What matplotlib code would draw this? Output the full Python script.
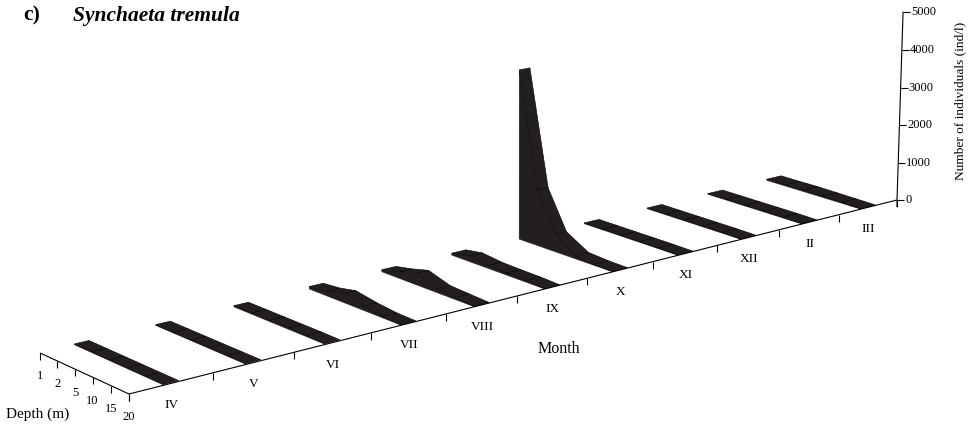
import numpy as np
import matplotlib
matplotlib.use('Agg')
import matplotlib.pyplot as plt

plt.rcParams['font.family'] = ['Liberation Serif', 'DejaVu Serif']

months = ['IV', 'V', 'VI', 'VII', 'VIII', 'IX', 'X', 'XI', 'XII', 'II', 'III']
depths = ['1', '2', '5', '10', '15', '20']
z_ticks = [0, 1000, 2000, 3000, 4000, 5000]

# individuals per litre, one list per month, depths 1 to 20 m
apr = [20, 20, 20, 20, 20, 20]
may = [20, 20, 20, 20, 20, 20]
jun = [30, 30, 30, 30, 30, 20]
jul = [60, 120, 240, 110, 30, 10]
aug = [50, 170, 310, 90, 50, 10]
sep = [50, 150, 70, 50, 40, 10]
oct_ = [4290, 1410, 450, 70, 20, 10]
nov = [20, 20, 20, 20, 20, 10]
dec = [20, 20, 20, 20, 20, 10]
feb = [20, 20, 20, 20, 20, 10]
mar = [30, 30, 40, 30, 20, 10]
values = [apr, may, jun, jul, aug, sep, oct_, nov, dec, feb, mar]

# perspective used by the original 3d plot, fitted to the axis ticks
origin = np.array([129.0, 394.0])
dir_m = np.array([85.74, -21.66])
dir_s = np.array([-18.42, -8.49])
dir_z = np.array([-1.48, -44.8])
g_m, g_s, g_z = 0.02073, 0.007, -0.00384


def project(m, s, z=0.0):
    # m months from the front corner, s depth steps back, z in thousands
    w = 1 + g_m * m + g_s * s + g_z * z
    p = origin + (dir_m * m + dir_s * s + dir_z * z) / w
    return p[0], p[1]


fig = plt.figure(figsize=(9.69, 4.26), dpi=100)
ax = fig.add_axes([0, 0, 1, 1])
ax.set_xlim(0, 969)
ax.set_ylim(426, 0)
ax.axis('off')

axis_kw = dict(color='black', lw=0.8, solid_capstyle='butt')
n_months = len(months)
n_depths = len(depths)

# month axis
x0, y0 = project(0, 0)
x1, y1 = project(n_months, 0)
ax.plot([x0, x1], [y0, y1], **axis_kw)
for i in range(n_months + 1):
    x, y = project(i, 0)
    ax.plot([x, x], [y, y + 7], **axis_kw)
for i, name in enumerate(months):
    x, y = project(i + 0.5, 0)
    ax.text(x, y + 22, name, fontsize=9.5, ha='center', va='center')
ax.text(559, 349, 'Month', fontsize=11.5, ha='center', va='center')

# depth axis
x1, y1 = project(0, n_depths - 1)
ax.plot([x0, x1], [y0, y1], **axis_kw)
for i, name in enumerate(depths):
    x, y = project(0, n_depths - 1 - i)
    ax.plot([x, x], [y, y + 7], **axis_kw)
    ax.text(x, y + 23.5, name, fontsize=9, ha='center', va='center')
ax.text(38, 414, 'Depth (m)', fontsize=11, ha='center', va='center')

# value axis
x0, y0 = project(n_months, 0)
x1, y1 = project(n_months, 0, 5)
ax.plot([x0, x0, x1], [y0 + 7, y0, y1], **axis_kw)
for t in z_ticks:
    x, y = project(n_months, 0, t / 1000)
    ax.plot([x, x + 7], [y, y], **axis_kw)
    ax.text(x + 8, y, str(t), fontsize=9, ha='left', va='center')
ax.text(960, 101, 'Number of individuals (ind/l)', fontsize=9.6, rotation=90,
        ha='center', va='center')

# ribbons, far months first
for i in range(n_months - 1, -1, -1):
    m = i + 0.5
    half = 0.09 + 0.004 * i
    row = values[i]
    left = [project(m - half, n_depths - 1 - k, row[k] / 1000) for k in range(n_depths)]
    # raised cells look narrower in the original
    right = [project(m - half + 2 * half * (1 - 0.3 * min(row[k] / 250, 1)), n_depths - 1 - k, row[k] / 1000)
             for k in range(n_depths)]
    floor = [project(m - half, n_depths - 1 - k) for k in range(n_depths)]
    # side wall down to the floor
    ax.fill(*zip(*(left + floor[::-1])), facecolor='#231f20', edgecolor='#231f20', lw=0.3)
    # top surface, one cell per depth step
    for k in range(n_depths - 1):
        cell = [left[k], right[k], right[k + 1], left[k + 1]]
        ax.fill(*zip(*cell), facecolor='#231f20', edgecolor='black', lw=0.4)

ax.text(23, 20.5, 'c)', fontsize=15.5, fontweight='bold', ha='left', va='baseline')
ax.text(73, 20.5, 'Synchaeta tremula', fontsize=15.5, fontweight='bold', style='italic',
        ha='left', va='baseline')

fig.savefig('out.png', dpi=100)
